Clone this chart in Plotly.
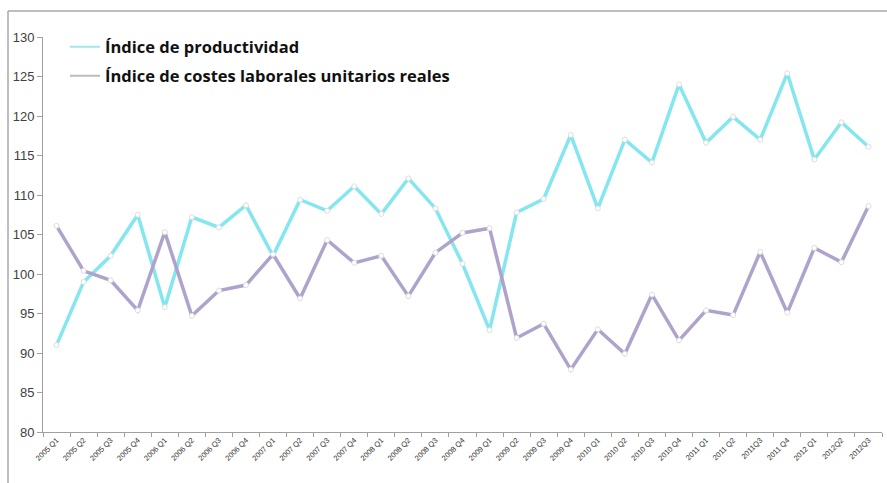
import plotly.graph_objects as go

categories = ["2005 Q1", "2005 Q2", "2005 Q3", "2005 Q4", "2006 Q1", "2006 Q2", "2006 Q3", "2006 Q4",
              "2007 Q1", "2007 Q2", "2007 Q3", "2007 Q4", "2008 Q1", "2008 Q2", "2008 Q3", "2008 Q4",
              "2009 Q1", "2009 Q2", "2009 Q3", "2009 Q4", "2010 Q1", "2010 Q2", "2010 Q3", "2010 Q4",
              "2011 Q1", "2011 Q2", "2011Q3", "2011 Q4", "2012 Q1", "2012Q2", "2012Q3"]

productividad = [91.0, 99.0, 102.3, 107.5, 95.8, 107.2, 105.9, 108.7,
                 102.3, 109.4, 108.0, 111.1, 107.6, 112.1, 108.3, 101.3,
                 92.9, 107.8, 109.5, 117.6, 108.3, 117.0, 114.1, 124.0,
                 116.6, 119.9, 117.0, 125.4, 114.5, 119.2, 116.1]

costes = [106.1, 100.4, 99.2, 95.4, 105.3, 94.7, 97.9, 98.6,
          102.5, 96.9, 104.3, 101.4, 102.3, 97.2, 102.7, 105.2,
          105.8, 91.9, 93.7, 87.9, 93.0, 89.9, 97.4, 91.6,
          95.4, 94.8, 102.8, 95.1, 103.3, 101.5, 108.6]

y_ticks = [80, 85, 90, 95, 100, 105, 110, 115, 120, 125, 130]

names = ["Índice de productividad", "Índice de costes laborales unitarios reales"]

CYAN = "#84E6EE"
PURPLE = "#AFA3CC"

fig = go.Figure()
fig.add_trace(go.Scatter(
    x=categories, y=productividad, mode="lines+markers",
    name=names[0], showlegend=False,
    line=dict(color=CYAN, width=3.5),
    marker=dict(size=5, color="white", line=dict(color="#dddddd", width=1)),
))
fig.add_trace(go.Scatter(
    x=categories, y=costes, mode="lines+markers",
    name=names[1], showlegend=False,
    line=dict(color=PURPLE, width=3.5),
    marker=dict(size=5, color="white", line=dict(color="#dddddd", width=1)),
))
# legend-only entries (line symbols without markers, as in the reference)
fig.add_trace(go.Scatter(x=[None], y=[None], mode="lines", name=names[0], legend="legend",
                         line=dict(color="#9FE8E8", width=2)))
fig.add_trace(go.Scatter(x=[None], y=[None], mode="lines", name=names[1], legend="legend2",
                         line=dict(color="#bbbbbb", width=2)))

W, H = 887, 483
L, R, T, B = 43, 5, 37, 51
pw, ph = W - L - R, H - T - B

def px(x):
    return (x - L) / pw

def py(y):
    return (H - B - y) / ph

legend_font = dict(family="Open Sans, sans-serif", size=16.5, color="#111111", weight="bold")

fig.update_layout(
    width=W, height=H,
    margin=dict(l=L, r=R, t=T, b=B),
    paper_bgcolor="white", plot_bgcolor="white",
    showlegend=True,
    legend=dict(x=px(65), y=py(47), xanchor="left", yanchor="middle",
                font=legend_font, bgcolor="rgba(0,0,0,0)", itemwidth=30),
    legend2=dict(x=px(65), y=py(76), xanchor="left", yanchor="middle",
                 font=legend_font, bgcolor="rgba(0,0,0,0)", itemwidth=30),
    xaxis=dict(
        type="category", tickangle=-45, showgrid=False,
        showline=True, linecolor="#a0a0a0", linewidth=1,
        ticks="outside", ticklen=4, tickcolor="#a0a0a0", tickson="boundaries",
        tickfont=dict(family="Liberation Sans, sans-serif", size=7.5, color="#333333"),
        range=[-0.5, len(categories) - 0.5],
    ),
    yaxis=dict(
        range=[80, 130], tickvals=y_ticks, showgrid=False, zeroline=False,
        showline=True, linecolor="#a0a0a0", linewidth=1,
        ticks="outside", ticklen=5, tickcolor="#a0a0a0",
        tickfont=dict(family="Liberation Sans, sans-serif", size=13, color="#404040"),
    ),
    shapes=[
        dict(type="line", xref="paper", yref="paper", x0=px(8), x1=px(887), y0=py(11), y1=py(11),
             line=dict(color="#a8a8a8", width=1.5)),
        dict(type="line", xref="paper", yref="paper", x0=px(8), x1=px(8), y0=py(11), y1=py(483),
             line=dict(color="#a8a8a8", width=1.5)),
    ],
)

fig.write_html("out.html")
